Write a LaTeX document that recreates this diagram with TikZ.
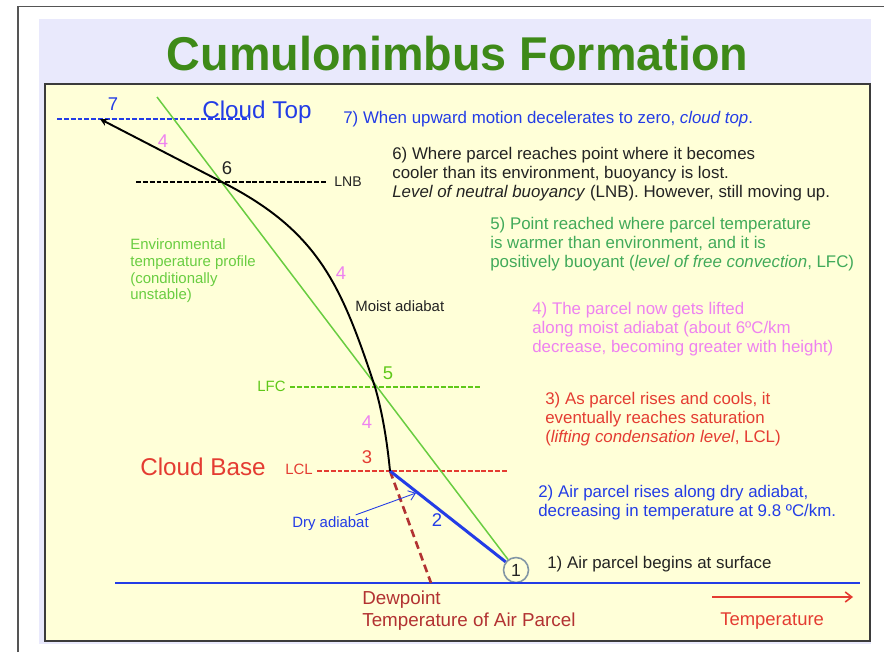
\documentclass[tikz,border=0pt]{standalone}
\usepackage{fontspec}
\usepackage{graphicx}
\setmainfont{Liberation Sans}
\usetikzlibrary{arrows.meta,positioning}

\definecolor{titlegreen}{RGB}{62,138,24}
\definecolor{bluetxt}{RGB}{35,60,230}
\definecolor{darktxt}{RGB}{35,35,35}
\definecolor{stepgreen}{RGB}{65,170,90}
\definecolor{envgreen}{RGB}{105,205,65}
\definecolor{lfcgreen}{RGB}{95,200,25}
\definecolor{pinktxt}{RGB}{238,130,240}
\definecolor{redtxt}{RGB}{228,60,50}
\definecolor{dewred}{RGB}{178,50,50}
\definecolor{bgyellow}{RGB}{255,255,216}
\definecolor{lavender}{RGB}{233,233,252}
\definecolor{circgray}{RGB}{130,150,165}
\definecolor{framegray}{RGB}{85,85,85}

\begin{document}
\begin{tikzpicture}[x=0.02cm,y=-0.02cm,
      font=\fontsize{9.6}{10.8}\selectfont,
      steptxt/.style={anchor=north west,inner sep=0pt,align=left},
      smalltxt/.style={inner sep=0pt,font=\fontsize{8.5}{9.5}\selectfont},
      bigtxt/.style={anchor=base west,inner sep=0pt,font=\fontsize{13.8}{15}\selectfont},
      numlbl/.style={inner sep=0pt,font=\fontsize{10.5}{12}\selectfont},
      level/.style={line width=1.1pt,dash pattern=on 2.8pt off 1.1pt},
      barb/.style={-{Straight Barb[length=1.3mm,width=2mm]}}]
    \useasboundingbox (0,0) rectangle (884,652);
    \draw[framegray,line width=0.9pt] (18,652) -- (18,6.5) -- (884,6.5);
    \fill[lavender] (39,19) rectangle (871,644);
    \draw[framegray!70!black,line width=1.1pt,fill=bgyellow] (45,84) rectangle (870,641);
    \node[anchor=base,inner sep=0pt,text=titlegreen,font=\fontsize{27}{30}\selectfont\bfseries]
      (title) at (457.5,70.5) {\scalebox{0.985}[1]{Cumulonimbus Formation}};

    \coordinate (envtop) at (157,97);
    \coordinate (lcl) at (390,471);
    \coordinate (lfc) at (375,387);
    \coordinate (lnb) at (222,182);
    \coordinate (ctop) at (100,119);
    \coordinate (dewpt) at (431,583);
    \node[circle,draw=circgray,line width=0.9pt,fill=bgyellow,minimum size=0.5cm,inner sep=0pt,
      text=darktxt,font=\fontsize{10}{12}\selectfont] (p1) at (516,570) {1};

    \draw[bluetxt,line width=1.1pt] (115,583) coordinate (sfcL) -- (860,583) coordinate (sfcR);
    \draw[level,bluetxt] (57,119) coordinate (ctopL) -- (250,119) coordinate (ctopR);
    \draw[level,black] (136,182) coordinate (lnbL) -- (327,182) coordinate (lnbR);
    \draw[level,lfcgreen] (290,387) coordinate (lfcL) -- (480,387) coordinate (lfcR);
    \draw[level,redtxt] (317,471) coordinate (lclL) -- (508,471) coordinate (lclR);

    \draw[envgreen,line width=0.85pt] (envtop) -- (p1);
    \draw[dewred,line width=1.5pt,dash pattern=on 4.5pt off 2.6pt] (lcl) -- (dewpt);
    \draw[bluetxt,line width=1.7pt] (p1) -- (lcl);
    \draw[black,line width=1.1pt,-{Stealth[length=1.5mm,width=1.5mm]}]
      (lcl) .. controls (387,440) and (382,411) .. (lfc)
      .. controls (341,284) and (318,231) .. (lnb) -- (ctop);

    \node[bigtxt,text=bluetxt] (cloudtop) at (202,118) {Cloud Top};
    \node[bigtxt,text=redtxt] (cloudbase) at (140,475) {Cloud Base};
    \node[smalltxt,anchor=west,text=darktxt,font=\fontsize{8}{9}\selectfont] (lnbtxt) at (334,182) {LNB};
    \node[smalltxt,anchor=west,text=lfcgreen] (lfctxt) at (257,386) {LFC};
    \node[smalltxt,anchor=west,text=redtxt] (lcltxt) at (285,469) {LCL};

    \node[numlbl,text=bluetxt] (n7) at (113,104) {7};
    \node[numlbl,text=pinktxt] (n4a) at (163,141) {4};
    \node[numlbl,text=darktxt] (n6) at (227,168) {6};
    \node[numlbl,text=pinktxt] (n4b) at (341,273) {4};
    \node[numlbl,text=lfcgreen] (n5) at (388,373) {5};
    \node[numlbl,text=pinktxt] (n4c) at (367,422) {4};
    \node[numlbl,text=redtxt] (n3) at (367,457) {3};
    \node[numlbl,text=bluetxt] (n2) at (437,520) {2};

    \node[smalltxt,steptxt,text=envgreen] (envtxt) at (130,238.5)
      {Environmental\\temperature profile\\(conditionally\\unstable)};
    \node[smalltxt,anchor=west,text=darktxt] (moisttxt) at (355,306) {Moist adiabat};
    \node[smalltxt,anchor=west,text=bluetxt] (drytxt) at (292,524) {Dry adiabat};
    \coordinate (dryend) at (416,493);
    \draw[bluetxt,line width=0.5pt,barb,shorten <=3pt] (drytxt) -- (dryend);

    \node[steptxt,text=bluetxt] (step7) at (343,111) {7) When upward motion decelerates to zero, \textit{cloud top}.};
    \node[steptxt,text=darktxt] (step6) at (392,147)
      {6) Where parcel reaches point where it becomes\\cooler than its environment, buoyancy is lost.\\\textit{Level of neutral buoyancy} (LNB). However, still moving up.};
    \node[steptxt,text=stepgreen] (step5) at (490,217)
      {5) Point reached where parcel temperature\\is warmer than environment, and it is\\positively buoyant (\textit{level of free convection}, LFC)};
    \node[steptxt,text=pinktxt] (step4) at (532,302)
      {4) The parcel now gets lifted\\along moist adiabat (about 6ºC/km\\decrease, becoming greater with height)};
    \node[steptxt,text=redtxt] (step3) at (545,392)
      {3) As parcel rises and cools, it\\eventually reaches saturation\\(\textit{lifting condensation level}, LCL)};
    \node[steptxt,text=bluetxt] (step2) at (538,485)
      {2) Air parcel rises along dry adiabat,\\decreasing in temperature at 9.8 ºC/km.};
    \node[steptxt,text=darktxt] (step1) at (547,556) {1) Air parcel begins at surface};

    \node[steptxt,text=dewred,font=\fontsize{10.7}{12.5}\selectfont] (dewtxt) at (362,591)
      {Dewpoint\\Temperature of Air Parcel};
    \coordinate (tempL) at (712,597);
    \coordinate (tempR) at (853,597);
    \draw[redtxt,line width=0.9pt,barb] (tempL) -- (tempR);
    \node[bigtxt,text=redtxt,font=\fontsize{10.5}{12}\selectfont] (temptxt) at (720,625) {Temperature};
  \end{tikzpicture}
\end{document}
